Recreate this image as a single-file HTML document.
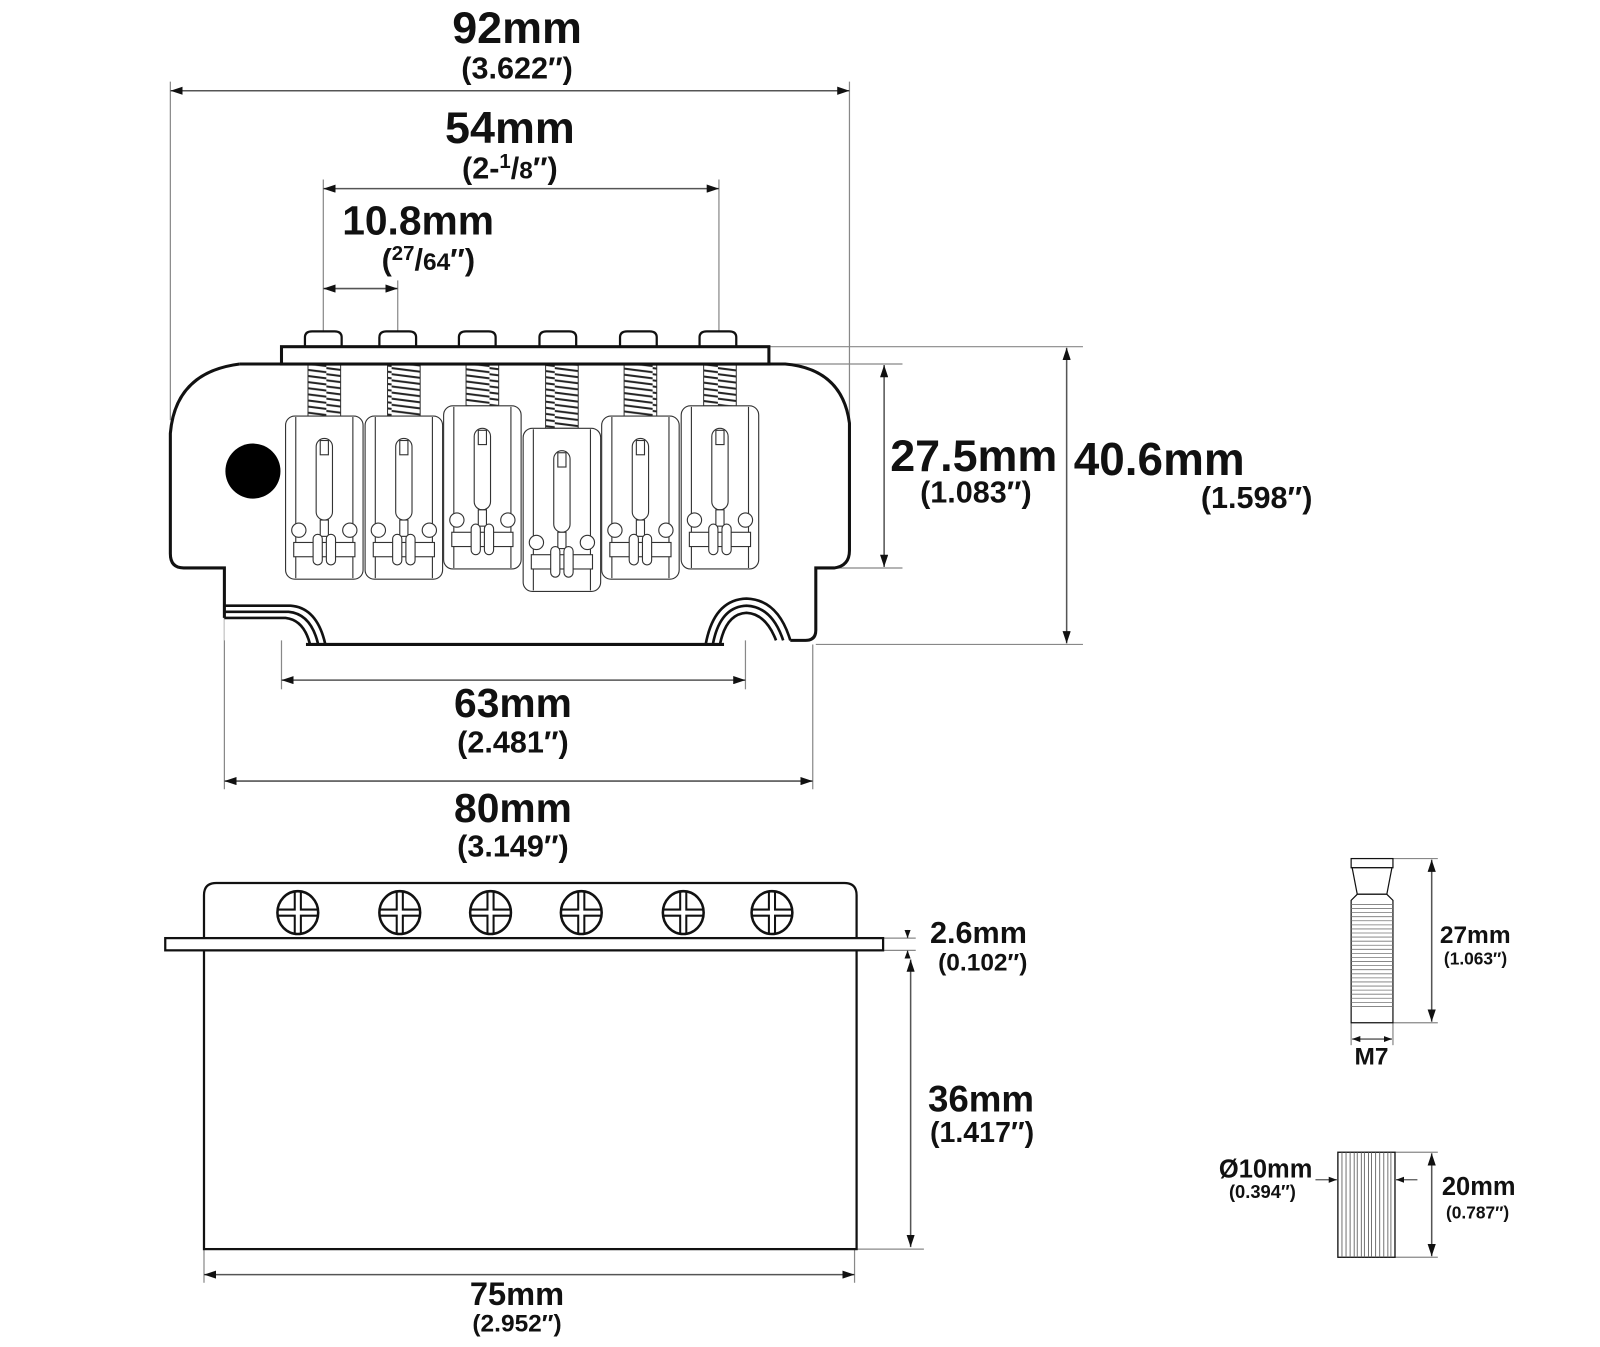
<!DOCTYPE html>
<html><head><meta charset="utf-8"><style>
html,body{margin:0;padding:0;background:#fff;}
svg{display:block;}
text{font-family:"Liberation Sans",Arial,sans-serif;font-weight:bold;fill:#111;}
</style></head><body>
<svg width="1600" height="1347" viewBox="0 0 1569 1321" xmlns="http://www.w3.org/2000/svg">
<defs>
<marker id="ar" viewBox="0 0 12 8" refX="12" refY="4" markerWidth="12" markerHeight="8" markerUnits="userSpaceOnUse" orient="auto-start-reverse">
<path d="M0,0 L12,4 L0,8 z" fill="#111"/></marker>
<marker id="as" viewBox="0 0 8 6" refX="8" refY="3" markerWidth="8" markerHeight="6" markerUnits="userSpaceOnUse" orient="auto-start-reverse">
<path d="M0,0 L8,3 L0,6 z" fill="#111"/></marker>
<pattern id="coil" width="32" height="6" patternUnits="userSpaceOnUse">
<rect width="32" height="6" fill="#fff"/>
<path d="M0,1 L32,5" stroke="#222" stroke-width="2"/>
</pattern>
<g id="saddle" fill="#fff" stroke="#333" stroke-width="1.1">
<rect x="0" y="0" width="76" height="160" rx="9"/>
<line x1="10" y1="1" x2="10" y2="159"/><line x1="66" y1="1" x2="66" y2="159"/>
<rect x="30" y="22" width="16" height="80" rx="8"/>
<rect x="34" y="24" width="8" height="14"/>
<rect x="34" y="102" width="8" height="16"/>
<circle cx="13" cy="112" r="7"/><circle cx="63" cy="112" r="7"/>
<rect x="8" y="124" width="60" height="14"/>
<rect x="27" y="116" width="9" height="30" rx="4.5"/>
<rect x="40" y="116" width="9" height="30" rx="4.5"/>
</g>
<g id="screwhead">
<ellipse cx="0" cy="0" rx="20" ry="21" fill="#fff" stroke="#111" stroke-width="2.5"/>
<path d="M-3,-20 V-3 H-19 M3,-20 V-3 H19 M-3,20 V3 H-19 M3,20 V3 H19" fill="none" stroke="#111" stroke-width="2"/>
</g>
</defs>

<g stroke="#888" stroke-width="1.2" fill="none">
<line x1="167" y1="80" x2="167" y2="412"/>
<line x1="833" y1="80" x2="833" y2="412"/>
<line x1="317" y1="176" x2="317" y2="326"/>
<line x1="705" y1="176" x2="705" y2="326"/>
<line x1="390" y1="275" x2="390" y2="326"/>
<line x1="754" y1="340" x2="1062" y2="340"/>
<line x1="800" y1="632" x2="1062" y2="632"/>
<line x1="770" y1="357" x2="885" y2="357"/>
<line x1="800" y1="557" x2="885" y2="557"/>
<line x1="276" y1="625" x2="276" y2="676"/>
<line x1="731" y1="622" x2="731" y2="676"/>
<line x1="220" y1="606" x2="220" y2="774"/>
<line x1="797" y1="632" x2="797" y2="774"/>
<line x1="866" y1="920" x2="898" y2="920"/>
<line x1="866" y1="932" x2="898" y2="932"/>
<line x1="840" y1="1225" x2="906" y2="1225"/>
<line x1="200" y1="1225" x2="200" y2="1258"/>
<line x1="838" y1="1225" x2="838" y2="1258"/>
<line x1="1366" y1="842" x2="1410" y2="842"/>
<line x1="1366" y1="1003" x2="1410" y2="1003"/>
<line x1="1325" y1="1003" x2="1325" y2="1025"/>
<line x1="1366" y1="1003" x2="1366" y2="1025"/>
<line x1="1368" y1="1130" x2="1410" y2="1130"/>
<line x1="1368" y1="1233" x2="1410" y2="1233"/>
</g>

<g stroke="#555" stroke-width="1.5" fill="none" marker-start="url(#ar)" marker-end="url(#ar)">
<line x1="167" y1="89" x2="833" y2="89"/>
<line x1="317" y1="185" x2="705" y2="185"/>
<line x1="317" y1="283" x2="390" y2="283"/>
<line x1="1046" y1="341" x2="1046" y2="631"/>
<line x1="867" y1="358" x2="867" y2="556"/>
<line x1="276" y1="667" x2="731" y2="667"/>
<line x1="220" y1="766" x2="797" y2="766"/>
<line x1="893" y1="941" x2="893" y2="1223"/>
<line x1="200" y1="1250" x2="838" y2="1250"/>
<line x1="1404" y1="843" x2="1404" y2="1002"/>
<line x1="1404" y1="1131" x2="1404" y2="1232"/>
</g>
<g stroke="#555" stroke-width="1.3" fill="none">
<line x1="1326" y1="1019" x2="1365" y2="1019" marker-start="url(#as)" marker-end="url(#as)"/>
<line x1="890" y1="912" x2="890" y2="920" marker-end="url(#as)"/>
<line x1="890" y1="940" x2="890" y2="932" marker-end="url(#as)"/>
<line x1="1290" y1="1157" x2="1311" y2="1157" marker-end="url(#as)"/>
<line x1="1390" y1="1157" x2="1369" y2="1157" marker-end="url(#as)"/>
</g>

<g fill="#fff" stroke="#111" stroke-width="2.2">
<path d="M299,341 V331 Q299,325 306,325 H328 Q335,325 335,331 V341"/>
<path d="M372,341 V331 Q372,325 379,325 H401 Q408,325 408,331 V341"/>
<path d="M450,341 V331 Q450,325 457,325 H479 Q486,325 486,331 V341"/>
<path d="M529,341 V331 Q529,325 536,325 H558 Q565,325 565,331 V341"/>
<path d="M608,341 V331 Q608,325 615,325 H637 Q644,325 644,331 V341"/>
<path d="M686,341 V331 Q686,325 693,325 H715 Q722,325 722,331 V341"/>
</g>
<path d="M235,357 H770 Q826,362 833,415 V540 Q833,555 818,557 H800 V628 H220 V557 H180 Q167,557 167,543 V425 Q172,365 235,357 Z" fill="#fff" stroke="none"/>
<path d="M235,357 H770 Q826,362 833,415 V540 Q833,555 818,557 H800 V618 Q800,628 790,628 H775" fill="none" stroke="#111" stroke-width="3"/>
<path d="M220,606 V557 H180 Q167,557 167,543 V425 Q172,365 235,357" fill="none" stroke="#111" stroke-width="3"/>
<line x1="300" y1="632" x2="710" y2="632" stroke="#111" stroke-width="3"/>
<g fill="none" stroke="#111" stroke-width="2.6">
<path d="M220,594 H285 Q311,596 319,632"/>
<path d="M220,600 H283 Q305,602 312,632"/>
<path d="M220,606 H280 Q298,608 304,632"/>
</g>
<g fill="none" stroke="#111" stroke-width="2.6">
<path d="M692,632 Q700,588 732,587 Q763,588 775,628"/>
<path d="M699,632 Q706,595 732,594 Q757,595 768,628"/>
<path d="M706,632 Q712,602 732,601 Q751,602 761,628"/>
</g>
<ellipse cx="248" cy="462" rx="27" ry="27" fill="#000"/>
<g stroke="#333" stroke-width="1">
<rect x="302" y="358" width="32" height="50" fill="url(#coil)"/>
<rect x="380" y="358" width="32" height="50" fill="url(#coil)"/>
<rect x="457" y="358" width="32" height="40" fill="url(#coil)"/>
<rect x="535" y="358" width="32" height="62" fill="url(#coil)"/>
<rect x="612" y="358" width="32" height="50" fill="url(#coil)"/>
<rect x="690" y="358" width="32" height="40" fill="url(#coil)"/>
</g>
<use href="#saddle" x="280" y="408"/>
<use href="#saddle" x="358" y="408"/>
<use href="#saddle" x="435" y="398"/>
<use href="#saddle" x="513" y="420"/>
<use href="#saddle" x="590" y="408"/>
<use href="#saddle" x="668" y="398"/>
<rect x="276" y="340" width="478" height="17" fill="#fff" stroke="#111" stroke-width="3"/>

<path d="M200,932 V878 Q200,866 212,866 H828 Q840,866 840,878 V932" fill="#fff" stroke="#111" stroke-width="2.2"/>
<rect x="200" y="932" width="640" height="293" fill="#fff" stroke="#111" stroke-width="2.2"/>
<rect x="162" y="920" width="704" height="12" fill="#fff" stroke="#111" stroke-width="2.2"/>
<use href="#screwhead" x="292" y="895"/>
<use href="#screwhead" x="392" y="895"/>
<use href="#screwhead" x="481" y="895"/>
<use href="#screwhead" x="570" y="895"/>
<use href="#screwhead" x="670" y="895"/>
<use href="#screwhead" x="757" y="895"/>

<g fill="#fff" stroke="#111" stroke-width="1.2">
<rect x="1325" y="842" width="41" height="9"/>
<path d="M1326,851 H1365 L1360,877 H1331 Z"/>
<path d="M1331,877 H1360 L1366,883 V1003 H1325 V883 Z"/>
</g>
<g stroke="#777" stroke-width="0.8">
<line x1="1325" y1="887" x2="1366" y2="887"/><line x1="1325" y1="891" x2="1366" y2="891"/>
<line x1="1325" y1="895" x2="1366" y2="895"/><line x1="1325" y1="899" x2="1366" y2="899"/>
<line x1="1325" y1="903" x2="1366" y2="903"/><line x1="1325" y1="907" x2="1366" y2="907"/>
<line x1="1325" y1="911" x2="1366" y2="911"/><line x1="1325" y1="915" x2="1366" y2="915"/>
<line x1="1325" y1="919" x2="1366" y2="919"/><line x1="1325" y1="923" x2="1366" y2="923"/>
<line x1="1325" y1="927" x2="1366" y2="927"/><line x1="1325" y1="931" x2="1366" y2="931"/>
<line x1="1325" y1="935" x2="1366" y2="935"/><line x1="1325" y1="939" x2="1366" y2="939"/>
<line x1="1325" y1="943" x2="1366" y2="943"/><line x1="1325" y1="947" x2="1366" y2="947"/>
<line x1="1325" y1="951" x2="1366" y2="951"/><line x1="1325" y1="955" x2="1366" y2="955"/>
<line x1="1325" y1="959" x2="1366" y2="959"/><line x1="1325" y1="963" x2="1366" y2="963"/>
<line x1="1325" y1="967" x2="1366" y2="967"/><line x1="1325" y1="971" x2="1366" y2="971"/>
<line x1="1325" y1="975" x2="1366" y2="975"/><line x1="1325" y1="979" x2="1366" y2="979"/>
<line x1="1325" y1="983" x2="1366" y2="983"/><line x1="1325" y1="987" x2="1366" y2="987"/>
</g>
<rect x="1312" y="1130" width="56" height="103" fill="#fff" stroke="#111" stroke-width="1.3"/>
<g stroke="#666" stroke-width="0.9">
<line x1="1316" y1="1130" x2="1316" y2="1233"/><line x1="1320" y1="1130" x2="1320" y2="1233"/>
<line x1="1324" y1="1130" x2="1324" y2="1233"/><line x1="1328" y1="1130" x2="1328" y2="1233"/>
<line x1="1331" y1="1130" x2="1331" y2="1233"/><line x1="1335" y1="1130" x2="1335" y2="1233"/>
<line x1="1338" y1="1130" x2="1338" y2="1233"/><line x1="1342" y1="1130" x2="1342" y2="1233"/>
<line x1="1345" y1="1130" x2="1345" y2="1233"/><line x1="1349" y1="1130" x2="1349" y2="1233"/>
<line x1="1353" y1="1130" x2="1353" y2="1233"/><line x1="1357" y1="1130" x2="1357" y2="1233"/>
<line x1="1361" y1="1130" x2="1361" y2="1233"/><line x1="1364" y1="1130" x2="1364" y2="1233"/>
</g>

<g text-anchor="middle">
<text x="507" y="42" font-size="44">92mm</text>
<text x="507" y="77" font-size="30">(3.622″)</text>
<text x="500" y="140" font-size="44">54mm</text>
<text x="500" y="175" font-size="30">(2-<tspan font-size="20" dy="-10">1</tspan><tspan dy="10">/</tspan><tspan font-size="24">8</tspan>″)</text>
<text x="410" y="230" font-size="40">10.8mm</text>
<text x="420" y="265" font-size="30">(<tspan font-size="20" dy="-10">27</tspan><tspan dy="10">/</tspan><tspan font-size="24">64</tspan>″)</text>
<text x="503" y="703" font-size="40">63mm</text>
<text x="503" y="738" font-size="30">(2.481″)</text>
<text x="503" y="806" font-size="40">80mm</text>
<text x="503" y="840" font-size="30">(3.149″)</text>
<text x="957" y="493" font-size="30">(1.083″)</text>
<text x="507" y="1280" font-size="32">75mm</text>
<text x="507" y="1306" font-size="24">(2.952″)</text>
<text x="1345" y="1044" font-size="24">M7</text>
<text x="1238" y="1175" font-size="18">(0.394″)</text>
</g>
<text x="873" y="462" font-size="44">27.5mm</text>
<text x="1053" y="466" font-size="45">40.6mm</text>
<text x="1287" y="498" font-size="30" text-anchor="end">(1.598″)</text>
<text x="912" y="925" font-size="30">2.6mm</text>
<text x="920" y="952" font-size="24">(0.102″)</text>
<text x="910" y="1090" font-size="36">36mm</text>
<text x="912" y="1120" font-size="28">(1.417″)</text>
<text x="1412" y="925" font-size="24">27mm</text>
<text x="1416" y="946" font-size="17">(1.063″)</text>
<text x="1287" y="1155" font-size="25" text-anchor="end">Ø10mm</text>
<text x="1414" y="1172" font-size="25">20mm</text>
<text x="1418" y="1195" font-size="17">(0.787″)</text>
</svg>
</body></html>
